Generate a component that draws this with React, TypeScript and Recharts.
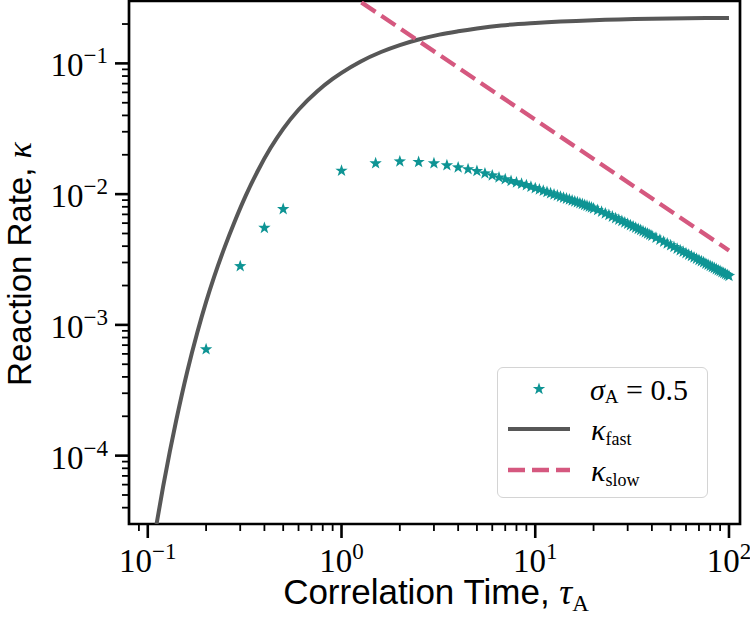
import { ComposedChart, Line, Scatter, XAxis, YAxis, ReferenceArea } from 'recharts';

// kappa_fast curve
const fastTau = [0.111, 0.12, 0.13, 0.14, 0.16, 0.18, 0.2, 0.22, 0.25, 0.28, 0.32, 0.37, 0.43, 0.5, 0.6, 0.75, 0.9, 1.0, 1.25, 1.6, 2.0, 2.5, 3.2, 4, 5, 6.67, 10, 20, 40, 100];
const fastKappa = [3.0e-5, 5.8e-5, 1.08e-4, 1.84e-4, 4.42e-4, 8.7e-4, 1.5e-3, 2.33e-3, 3.97e-3, 6.1e-3, 9.7e-3, 0.0151, 0.0225, 0.0316, 0.0442, 0.0612, 0.076, 0.0847, 0.1031, 0.1222, 0.138, 0.1522, 0.166, 0.176, 0.185, 0.195, 0.204, 0.214, 0.2196, 0.2228];

// kappa_slow (straight in log-log)
const slowTau = [1, 100];
const slowKappa = [0.371, 0.00371];

// sigma_A = 0.5 stars
const starTau = [
  0.2, 0.3, 0.4, 0.5, 1, 1.5, 2, 2.5, 3, 3.5, 4, 4.5, 5, 5.5, 6, 6.5, 7, 7.5, 8, 8.5, 9, 9.5,
  10, 10.5, 11, 11.5, 12, 12.5, 13, 13.5, 14, 14.5, 15, 15.5, 16, 16.5, 17, 17.5, 18, 18.5, 19, 19.5,
  20, 21, 22, 23, 24, 25, 26, 27, 28, 29, 30, 31, 32, 33, 34, 35, 36, 37, 38, 39,
  40, 42, 44, 46, 48, 50, 52, 54, 56, 58, 60, 62, 64, 66, 68, 70, 72, 74, 76, 78,
  80, 82, 84, 86, 88, 90, 92, 94, 96, 98, 100,
];
const starKappa = [
  6.5e-4, 2.81e-3, 5.52e-3, 7.68e-3, 0.0151, 0.0172, 0.0178, 0.0176, 0.0172, 0.0166, 0.016, 0.0155, 0.015, 0.0144, 0.0139, 0.0134, 0.013, 0.0126, 0.0123, 0.012, 0.0117, 0.01138,
  0.0111, 0.01085, 0.0106, 0.01037, 0.01014, 0.00994, 0.00975, 0.00957, 0.0094, 0.00924, 0.00908, 0.00893, 0.00879, 0.00866, 0.00853, 0.00839, 0.00826, 0.00814, 0.00802, 0.0079,
  0.00778, 0.00755, 0.00733, 0.00712, 0.00692, 0.00673, 0.00655, 0.00638, 0.00622, 0.00607, 0.00593, 0.00579, 0.00566, 0.00554, 0.00542, 0.00531, 0.0052, 0.00509, 0.00499, 0.0049,
  0.00481, 0.00463, 0.00448, 0.00433, 0.00419, 0.00406, 0.00394, 0.00383, 0.00372, 0.00362, 0.00353, 0.00344, 0.00336, 0.00328, 0.00321, 0.00313, 0.00307, 0.00301, 0.00294, 0.00288,
  0.00282, 0.00277, 0.00272, 0.00267, 0.00262, 0.00258, 0.00253, 0.00249, 0.00245, 0.00241, 0.00237,
];

const xMajor = [0.1, 1, 10, 100];
const xMinor = [0.09, 0.2, 0.3, 0.4, 0.5, 0.6, 0.7, 0.8, 0.9, 2, 3, 4, 5, 6, 7, 8, 9, 20, 30, 40, 50, 60, 70, 80, 90];
const yMajor = [1e-4, 1e-3, 1e-2, 1e-1];
const yMinor = [4e-5, 5e-5, 6e-5, 7e-5, 8e-5, 9e-5, 2e-4, 3e-4, 4e-4, 5e-4, 6e-4, 7e-4, 8e-4, 9e-4,
  2e-3, 3e-3, 4e-3, 5e-3, 6e-3, 7e-3, 8e-3, 9e-3, 2e-2, 3e-2, 4e-2, 5e-2, 6e-2, 7e-2, 8e-2, 9e-2, 2e-1];

const fastData = fastTau.map((x, i) => ({ x, y: fastKappa[i] }));
const slowData = slowTau.map((x, i) => ({ x, y: slowKappa[i] }));
const starData = starTau.map((x, i) => ({ x, y: starKappa[i] }));

const X_DOMAIN: [number, number] = [0.08, 114];
const Y_DOMAIN: [number, number] = [3e-5, 0.3];

const TEAL = '#0e9494';
const GRAY = '#575757';
const PINK = '#d5587f';
const SERIF = '"Liberation Serif", serif';
const SANS = '"Liberation Sans", sans-serif';

const isMajor = (v: number, majors: number[]) => majors.some(m => Math.abs(m - v) / m < 1e-6);
const expOf = (v: number) => {
  const e = Math.round(Math.log10(v));
  return e < 0 ? '\u2212' + Math.abs(e) : String(e);
};

const starPath = (cx: number, cy: number, r: number) => {
  let d = '';
  for (let i = 0; i < 10; i++) {
    const a = (-90 + i * 36) * Math.PI / 180;
    const rr = i % 2 === 0 ? r : r * 0.4;
    d += (i === 0 ? 'M' : 'L') + (cx + rr * Math.cos(a)).toFixed(2) + ',' + (cy + rr * Math.sin(a)).toFixed(2);
  }
  return d + 'Z';
};

const Star = (props: any) => <path d={starPath(props.cx, props.cy, 6.5)} fill={TEAL} />;

const XTick = (props: any) => {
  const { x, y, payload } = props;
  const major = isMajor(payload.value, xMajor);
  return (
    <g>
      <line x1={x} x2={x} y1={y} y2={y + (major ? 14 : 7)} stroke="#000" strokeWidth={major ? 2.6 : 1.8} />
      {major && (
        <text x={x} y={y + 48} textAnchor="middle" fontFamily={SERIF} fill="#000">
          <tspan fontSize={33}>10</tspan>
          <tspan fontSize={23} dy={-13}>{expOf(payload.value)}</tspan>
        </text>
      )}
    </g>
  );
};

const YTick = (props: any) => {
  const { x, y, payload } = props;
  const major = isMajor(payload.value, yMajor);
  return (
    <g>
      <line x1={x} x2={x - (major ? 14 : 7)} y1={y} y2={y} stroke="#000" strokeWidth={major ? 2.6 : 1.8} />
      {major && (
        <text x={x - 21} y={y + 13} textAnchor="end" fontFamily={SERIF} fill="#000">
          <tspan fontSize={33}>10</tspan>
          <tspan fontSize={23} dy={-13}>{expOf(payload.value)}</tspan>
        </text>
      )}
    </g>
  );
};

const XTitle = () => (
  <text x={436} y={604} textAnchor="middle" fill="#000">
    <tspan fontFamily={SANS} fontSize={35}>Correlation Time, </tspan>
    <tspan fontFamily={SERIF} fontStyle="italic" fontSize={36}>τ</tspan>
    <tspan fontFamily={SERIF} fontSize={23} dy={7}>A</tspan>
  </text>
);

const YTitle = () => (
  <text x={31} y={264} textAnchor="middle" fill="#000" transform="rotate(-90 31 264)">
    <tspan fontFamily={SANS} fontSize={33}>Reaction Rate, </tspan>
    <tspan fontFamily={SERIF} fontStyle="italic" fontSize={34}>κ</tspan>
  </text>
);

function LegendBox() {
  return (
    <div style={{
      position: 'absolute', left: 497, top: 367, width: 211, height: 131, boxSizing: 'border-box',
      border: '1.4px solid #d4d4d4', borderRadius: 6, background: 'rgba(255,255,255,0.85)',
    }}>
      <svg width={211} height={131} style={{ position: 'absolute', left: -1, top: -1 }}>
        <path d={starPath(42, 22, 6.5)} fill={TEAL} />
        <text x={93} y={33} fontFamily={SERIF} fill="#000">
          <tspan fontStyle="italic" fontSize={30}>σ</tspan>
          <tspan fontSize={19} dy={3}>A</tspan>
          <tspan fontSize={30} dy={-3}> = 0.5</tspan>
        </text>
        <line x1={11} x2={73} y1={62} y2={62} stroke={GRAY} strokeWidth={4} />
        <text x={94} y={73} fontFamily={SERIF} fill="#000">
          <tspan fontStyle="italic" fontSize={30}>κ</tspan>
          <tspan fontSize={18} dy={5}>fast</tspan>
        </text>
        <line x1={11} x2={73} y1={103} y2={103} stroke={PINK} strokeWidth={4.3} strokeDasharray="17 7" />
        <text x={94} y={114} fontFamily={SERIF} fill="#000">
          <tspan fontStyle="italic" fontSize={30}>κ</tspan>
          <tspan fontSize={18} dy={5}>slow</tspan>
        </text>
      </svg>
    </div>
  );
}

export default function App() {
  const xTicks = [...xMinor, ...xMajor].sort((a, b) => a - b);
  const yTicks = [...yMinor, ...yMajor].sort((a, b) => a - b);
  return (
    <div style={{ position: 'absolute', left: 0, top: 0, width: 750, height: 619, background: '#fff' }}>
      <ComposedChart width={750} height={619} margin={{ top: 1, right: 10, left: 0, bottom: 0 }}>
        <XAxis
          dataKey="x" type="number" scale="log" domain={X_DOMAIN} allowDataOverflow
          ticks={xTicks} interval={0} tick={<XTick />} tickSize={0} tickMargin={0}
          axisLine={false} tickLine={false} height={95}
          label={{ content: () => <XTitle /> }}
        />
        <YAxis
          dataKey="y" type="number" scale="log" domain={Y_DOMAIN} allowDataOverflow
          ticks={yTicks} interval={0} tick={<YTick />} tickSize={0} tickMargin={0}
          axisLine={false} tickLine={false} width={129}
          label={{ content: () => <YTitle /> }}
        />
        <Scatter data={starData} dataKey="y" shape={Star} fill={TEAL} isAnimationActive={false} />
        <Line data={fastData} dataKey="y" type="monotone" stroke={GRAY} strokeWidth={4} dot={false} isAnimationActive={false} />
        <Line data={slowData} dataKey="y" type="linear" stroke={PINK} strokeWidth={4.3} strokeDasharray="17 7" dot={false} isAnimationActive={false} />
        <ReferenceArea x1={X_DOMAIN[0]} x2={X_DOMAIN[1]} y1={Y_DOMAIN[0]} y2={Y_DOMAIN[1]} fill="none" stroke="#000" strokeWidth={2.7} ifOverflow="visible" />
      </ComposedChart>
      <LegendBox />
    </div>
  );
}
